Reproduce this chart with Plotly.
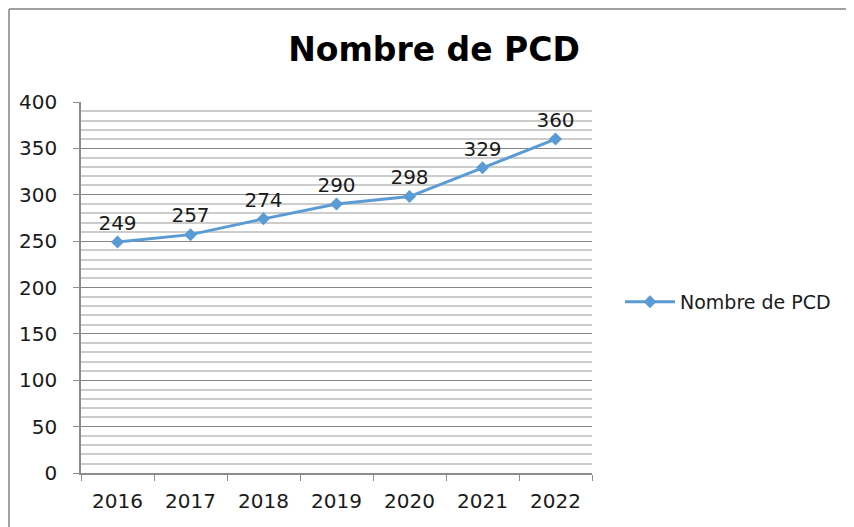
import plotly.graph_objects as go

years = ["2016", "2017", "2018", "2019", "2020", "2021", "2022"]
values = [249, 257, 274, 290, 298, 329, 360]
series_name = "Nombre de PCD"
title_text = "Nombre de PCD"

OFF = 8  # default page body margin
W, H = 854 - OFF, 527 - OFF
L, R, T, B = 81 - OFF, 592 - OFF, 102 - OFF, 473 - OFF
FONT = "DejaVu Sans, sans-serif"
blue = "#5B9BD5"
txt = "#1a1a1a"

fig = go.Figure()
fig.add_trace(go.Scatter(
    x=years, y=values, name=series_name,
    mode="lines+markers+text",
    line=dict(color=blue, width=3),
    marker=dict(symbol="diamond", size=10, color=blue),
    text=[str(v) for v in values],
    textposition="top center",
    textfont=dict(family=FONT, size=20, color=txt),
    cliponaxis=False,
))

pw, ph = R - L, B - T
def px(x):
    return (x - OFF - L) / pw
def py(y):
    return (B - (y - OFF)) / ph

fig.update_layout(
    width=W, height=H,
    margin=dict(l=L, r=W - R, t=T, b=H - B),
    paper_bgcolor="white", plot_bgcolor="white",
    font=dict(family=FONT, size=20, color=txt),
    title=dict(text="<b>" + title_text + "</b>", x=(434 - OFF) / W, y=1 - (49 - OFF) / H,
               xanchor="center", yanchor="middle", xref="container", yref="container",
               font=dict(family=FONT, size=33, color="black")),
    showlegend=True,
    legend=dict(x=px(620), y=py(302), xanchor="left", yanchor="middle",
                font=dict(family=FONT, size=19, color=txt),
                bgcolor="rgba(0,0,0,0)", itemwidth=50),
    xaxis=dict(type="category", range=[-0.5, 6.5], showgrid=False,
               showline=True, linecolor="#8c8c8c", linewidth=1.5,
               ticks="outside", ticklen=6, tickcolor="#8c8c8c", tickson="boundaries",
               ticklabelstandoff=9,
               tickfont=dict(family=FONT, size=20, color=txt)),
    yaxis=dict(range=[0, 400], dtick=50, showgrid=True, gridcolor="#868686", gridwidth=1.2,
               showline=True, linecolor="#8c8c8c", linewidth=1.5,
               ticks="outside", ticklen=6, tickcolor="#8c8c8c",
               ticklabelstandoff=12,
               tickfont=dict(family=FONT, size=20, color=txt),
               zeroline=False,
               minor=dict(dtick=10, showgrid=True, gridcolor="#cccccc", gridwidth=1.5)),
    shapes=[
        dict(type="line", xref="paper", yref="paper", x0=px(9), x1=px(9), y0=py(9), y1=py(540),
             line=dict(color="#a0a0a0", width=2)),
        dict(type="line", xref="paper", yref="paper", x0=px(9), x1=px(870), y0=py(9), y1=py(9),
             line=dict(color="#a0a0a0", width=2)),
    ],
)

fig.write_html("out.html")
